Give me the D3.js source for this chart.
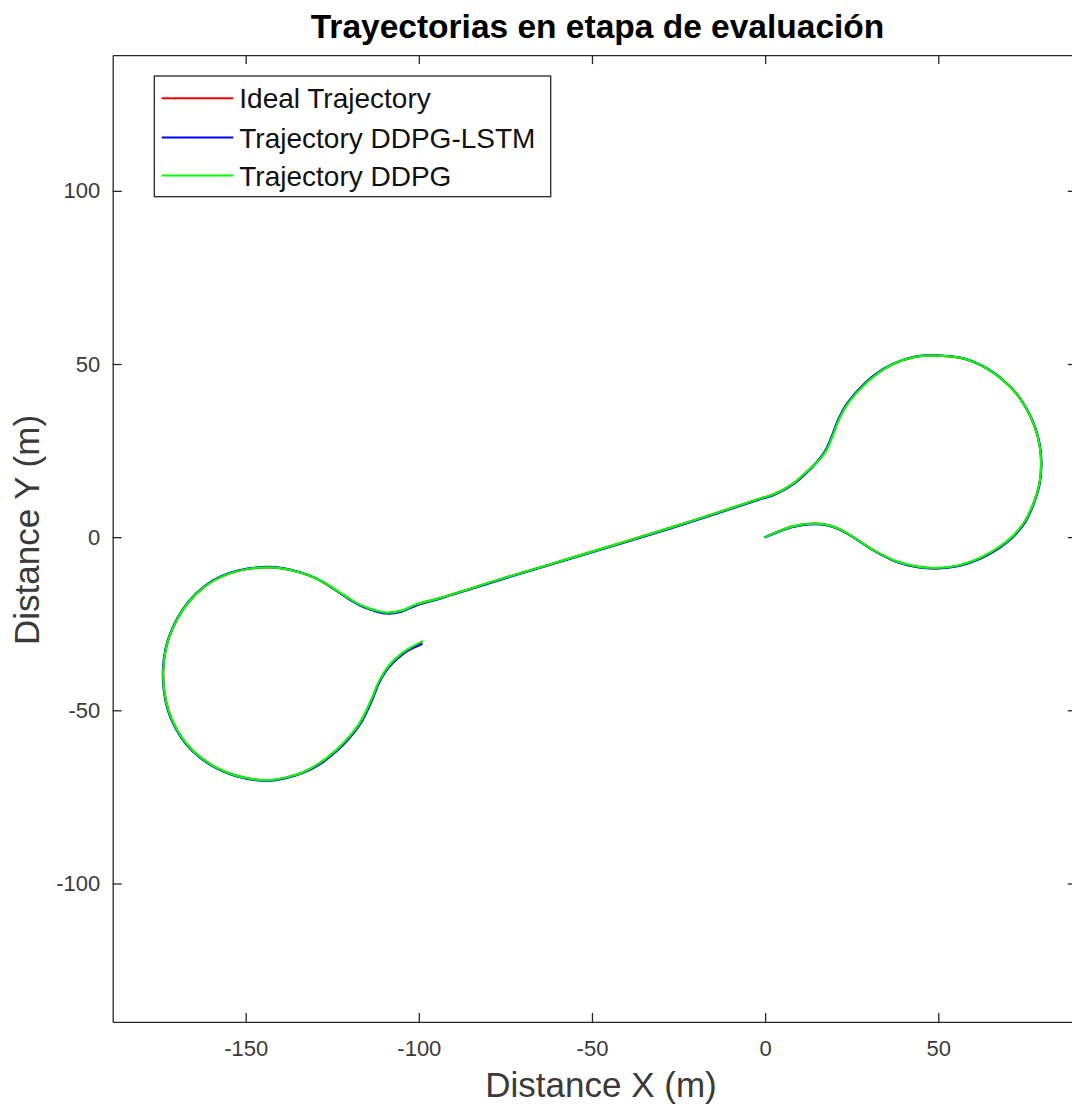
<!DOCTYPE html>
<html>
<head>
<meta charset="utf-8">
<script src="https://cdn.jsdelivr.net/npm/d3@7"></script>
<style>
  html, body { margin: 0; padding: 0; background: #ffffff; }
  svg { display: block; font-family: "Liberation Sans", Arial, Helvetica, sans-serif; }
</style>
</head>
<body>
<svg id="chart" width="1072" height="1106"></svg>
<script>
// Axis limits and tick values (metres)
const xLimits = [-188.4, 90];
const yLimits = [-140, 139.2];
const xTicks = [-150, -100, -50, 0, 50];
const yTicks = [-100, -50, 0, 50, 100];

const titleText = "Trayectorias en etapa de evaluación";
const xLabelText = "Distance X (m)";
const yLabelText = "Distance Y (m)";

const seriesNames = ["Ideal Trajectory", "Trajectory DDPG-LSTM", "Trajectory DDPG"];
const seriesColors = ["#ff0000", "#0000ff", "#00ff00"];

// Reference path: hook out of the origin, loop round the east circle,
// straight run to the west, loop round the west circle and exit.
const idealX = [0, 4, 8, 13.8, 17.5, 21, 25, 31, 38, 44, 49.5, 56, 62, 67.5, 71.5, 75, 77.5, 79.2, 79.7, 79.2,
  77.8, 75.5, 72.5, 68.5, 63.5, 57.5, 50, 43, 37, 31.5, 27, 23.5, 21, 19.2, 17.5, 15, 11.9, 8, 2.3, -1.6,
  -20.8, -40.1, -59.3, -74.7, -84.3, -93.9, -100.7, -105, -109.3, -113, -117, -120, -122.8, -126, -130, -134, -139, -144, -149.5, -154.5,
  -159.5, -164.2, -168, -171, -173, -173.8, -173.5, -172.3, -170, -167, -163, -158.4, -153, -147, -142, -137.5, -133.4, -128.5, -123.8, -120,
  -117, -115, -113.2, -111.7, -110.2, -108.5, -106.4, -103.5, -99.2];
const idealY = [0, 1.7, 3.1, 3.9, 3.6, 2.5, 0.3, -3.6, -7.1, -8.6, -9.0, -8.2, -6.1, -3, 0.2, 4.5, 9.8, 15.5, 21.3, 26.8,
  32, 37, 41.5, 45.5, 49, 51.5, 52.4, 52, 50, 46.7, 42.5, 38.2, 33.5, 28.8, 25, 21.8, 18.8, 15.4, 12.3, 11.1,
  4.8, -1.2, -7.0, -11.6, -14.6, -17.6, -19.5, -21.3, -21.9, -21.1, -19.6, -17.9, -16.1, -14.0, -11.8, -10.3, -9.1, -8.7, -9.2, -10.4,
  -12.7, -16.3, -20.8, -26.2, -32, -38.5, -44.5, -50, -55.3, -59.8, -63.6, -66.6, -68.8, -70, -70.1, -69.2, -67.9, -65.3, -61.6, -57.7,
  -53.8, -50, -46, -42.3, -39.5, -37.2, -35.1, -32.8, -30.4];

// Path followed by the DDPG-LSTM agent
const lstmX = [0, 4, 8.1, 13.8, 17.6, 21.1, 25.1, 31.1, 38, 44, 49.5, 56, 62.1, 67.6, 71.6, 75.1, 77.6, 79.3, 79.8, 79.3,
  77.9, 75.6, 72.6, 68.6, 63.5, 57.5, 50, 43, 36.95, 31.45, 26.95, 23.45, 20.95, 19.15, 17.45, 15, 12.0, 8.1, 2.35, -1.6,
  -20.8, -40.1, -59.3, -74.7, -84.3, -93.9, -100.7, -105, -109.3, -113, -117, -120, -122.8, -126, -130, -134.05, -139, -144, -149.5, -154.55,
  -159.6, -164.3, -168.1, -171.1, -173.1, -173.9, -173.6, -172.45, -170.15, -167.1, -163.1, -158.45, -153, -147, -142, -137.5, -133.35, -128.4, -123.7, -119.9,
  -116.9, -114.9, -113.15, -111.65, -110.15, -108.45, -106.35, -103.45, -99.2];
const lstmY = [0, 1.6, 2.95, 3.75, 3.45, 2.35, 0.15, -3.75, -7.15, -8.65, -9.05, -8.3, -6.25, -3.15, 0.05, 4.35, 9.7, 15.45, 21.25, 26.75,
  31.95, 36.95, 41.45, 45.45, 49.05, 51.55, 52.45, 52.05, 50.05, 46.75, 42.55, 38.25, 33.55, 28.85, 25.05, 21.7, 18.6, 15.25, 12.1, 10.9,
  4.6, -1.4, -7.15, -11.75, -14.75, -17.75, -19.7, -21.5, -22.05, -21.25, -19.75, -18.0, -16.15, -14.0, -11.75, -10.2, -9.0, -8.6, -9.1, -10.3,
  -12.55, -16.2, -20.7, -26.15, -32, -38.5, -44.55, -50.1, -55.4, -59.95, -63.75, -66.75, -68.95, -70.15, -70.25, -69.35, -68.05, -65.45, -61.75, -57.85,
  -53.95, -50.15, -46.15, -42.45, -39.65, -37.35, -35.25, -32.95, -30.9];

// Path followed by the DDPG agent
const ddpgX = [0, 4, 8, 13.8, 17.5, 21, 25, 31, 38, 44, 49.5, 56, 62, 67.5, 71.5, 75, 77.5, 79.2, 79.7, 79.2,
  77.8, 75.5, 72.5, 68.5, 63.5, 57.5, 50, 43, 37, 31.6, 27.1, 23.6, 21.1, 19.3, 17.6, 15.1, 11.9, 8, 2.3, -1.6,
  -20.8, -40.1, -59.3, -74.7, -84.3, -93.9, -100.7, -105, -109.3, -113, -117, -120, -122.8, -126, -130, -134, -139, -144, -149.5, -154.5,
  -159.5, -164.2, -168, -171, -173, -173.8, -173.5, -172.3, -170, -167, -163, -158.4, -153, -147, -142, -137.5, -133.4, -128.6, -123.9, -120.1,
  -117.1, -115.1, -113.3, -111.8, -110.2, -108.5, -106.4, -103.4, -99.0];
const ddpgY = [0, 1.7, 3.1, 3.9, 3.6, 2.5, 0.3, -3.6, -7.0, -8.5, -8.9, -8.1, -6.0, -2.9, 0.3, 4.6, 9.8, 15.5, 21.3, 26.8,
  32, 37, 41.5, 45.5, 49, 51.5, 52.4, 52, 50, 46.6, 42.4, 38.1, 33.4, 28.7, 24.9, 21.7, 18.8, 15.4, 12.3, 11.1,
  4.8, -1.2, -7.0, -11.6, -14.6, -17.6, -19.4, -21.2, -21.8, -21.0, -19.5, -17.8, -16.0, -13.9, -11.8, -10.3, -9.1, -8.7, -9.2, -10.4,
  -12.7, -16.3, -20.8, -26.2, -32, -38.5, -44.5, -50, -55.3, -59.8, -63.6, -66.6, -68.8, -70, -70.1, -69.2, -67.9, -65.2, -61.5, -57.6,
  -53.7, -49.9, -45.9, -42.2, -39.3, -36.9, -34.8, -32.5, -30.1];

const svg = d3.select("#chart");

// Plot box in pixels (equal data aspect ratio)
const plotLeft = 112.7, plotTop = 55.1;
const pxPerUnit = 3.463;
const plotRight = plotLeft + (xLimits[1] - xLimits[0]) * pxPerUnit;
const plotBottom = plotTop + (yLimits[1] - yLimits[0]) * pxPerUnit;

const x = d3.scaleLinear().domain(xLimits).range([plotLeft, plotRight]);
const y = d3.scaleLinear().domain(yLimits).range([plotBottom, plotTop]);

const axisColor = "#262626";
const tickTextColor = "#3a3a3a";
const tickLen = 9;

function styleAxis(g) {
  g.selectAll(".domain").attr("stroke", axisColor).attr("stroke-width", 1.3);
  g.selectAll(".tick line").attr("stroke", axisColor).attr("stroke-width", 1.3);
  g.selectAll(".tick text").attr("fill", tickTextColor).attr("font-size", 22)
    .attr("font-family", "'Liberation Sans', Arial, sans-serif");
}

// Bottom axis with inward ticks
svg.append("g")
  .attr("transform", `translate(0,${plotBottom})`)
  .call(d3.axisBottom(x).tickValues(xTicks).tickSizeInner(-tickLen).tickSizeOuter(0).tickPadding(18)
    .tickFormat(d3.format("d")))
  .call(styleAxis);

// Top axis (box) with inward ticks
svg.append("g")
  .attr("transform", `translate(0,${plotTop})`)
  .call(d3.axisTop(x).tickValues(xTicks).tickSizeInner(-tickLen).tickSizeOuter(0).tickFormat(""))
  .call(styleAxis);

// Left axis with inward ticks
svg.append("g")
  .attr("transform", `translate(${plotLeft},0)`)
  .call(d3.axisLeft(y).tickValues(yTicks).tickSizeInner(-tickLen).tickSizeOuter(0).tickPadding(12.5)
    .tickFormat(d3.format("d")))
  .call(styleAxis);

// Right axis (box) with inward ticks
svg.append("g")
  .attr("transform", `translate(${plotRight},0)`)
  .call(d3.axisRight(y).tickValues(yTicks).tickSizeInner(-tickLen).tickSizeOuter(0).tickFormat(""))
  .call(styleAxis);

// Use a hyphen-minus for negative tick labels
svg.selectAll(".tick text").text(function () { return this.textContent.replace("−", "-"); });

// Trajectories
const seriesData = [
  d3.zip(idealX, idealY),
  d3.zip(lstmX, lstmY),
  d3.zip(ddpgX, ddpgY)
];

const line = d3.line()
  .x(d => x(d[0]))
  .y(d => y(d[1]))
  .curve(d3.curveCatmullRom.alpha(0.5));

svg.append("g")
  .selectAll("path")
  .data(seriesData)
  .join("path")
  .attr("d", line)
  .attr("fill", "none")
  .attr("stroke", (d, i) => seriesColors[i])
  .attr("stroke-width", 2.2)
  .attr("stroke-linejoin", "round")
  .attr("stroke-linecap", "round");

// Title
svg.append("text")
  .attr("x", 597.5)
  .attr("y", 38)
  .attr("text-anchor", "middle")
  .attr("font-size", 33.5)
  .attr("font-weight", "bold")
  .attr("fill", "#000000")
  .text(titleText);

// Axis labels
svg.append("text")
  .attr("x", 601)
  .attr("y", 1097)
  .attr("text-anchor", "middle")
  .attr("font-size", 35)
  .attr("fill", tickTextColor)
  .text(xLabelText);

svg.append("text")
  .attr("transform", `translate(39,530) rotate(-90)`)
  .attr("text-anchor", "middle")
  .attr("font-size", 35)
  .attr("fill", tickTextColor)
  .text(yLabelText);

// Legend
const legend = svg.append("g");
legend.append("rect")
  .attr("x", 154.3).attr("y", 76)
  .attr("width", 396.4).attr("height", 120.7)
  .attr("fill", "#ffffff")
  .attr("stroke", axisColor)
  .attr("stroke-width", 1.3);

const legendRows = [98.3, 137.5, 175.5];
seriesNames.forEach((name, i) => {
  legend.append("line")
    .attr("x1", 161.7).attr("x2", 233.3)
    .attr("y1", legendRows[i]).attr("y2", legendRows[i])
    .attr("stroke", seriesColors[i])
    .attr("stroke-width", 2);
  legend.append("text")
    .attr("x", 239.3)
    .attr("y", legendRows[i])
    .attr("dy", "0.36em")
    .attr("font-size", 28)
    .attr("fill", "#111111")
    .text(name);
});
</script>
</body>
</html>
